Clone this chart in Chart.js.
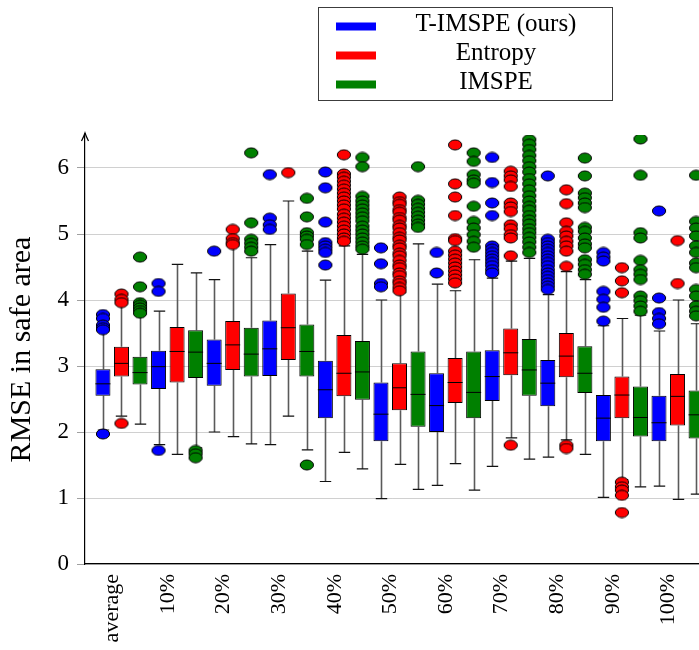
<!DOCTYPE html>
<html>
<head>
<meta charset="utf-8">
<title>RMSE in safe area</title>
<script src="https://cdn.jsdelivr.net/npm/chart.js@4/dist/chart.umd.min.js"></script>
<style>
  html, body { margin: 0; padding: 0; background: #fff; overflow: hidden; }
  #wrap { width: 699px; height: 650px; position: relative; }
</style>
</head>
<body>
<div id="wrap"><canvas id="chart" width="699" height="650"></canvas></div>
<script>
// Categories along the x axis
const categories = ['average', '10%', '20%', '30%', '40%', '50%', '60%', '70%', '80%', '90%', '100%'];

// Series names and colours
const seriesNames = ['T-IMSPE (ours)', 'Entropy', 'IMSPE'];
const seriesColors = ['#0000ff', '#ff0000', '#008000'];

// Box summaries per category: [lower whisker, Q1, median, Q3, upper whisker]
const timspeBoxes = [
  [2.03, 2.55, 2.73, 2.95, 3.52],
  [1.81, 2.65, 2.99, 3.23, 3.83],
  [2.00, 2.70, 3.04, 3.40, 4.31],
  [1.81, 2.85, 3.26, 3.69, 4.84],
  [1.25, 2.21, 2.64, 3.08, 4.30],
  [0.99, 1.86, 2.27, 2.75, 4.00],
  [1.19, 2.00, 2.40, 2.89, 4.24],
  [1.48, 2.47, 2.84, 3.24, 4.33],
  [1.62, 2.39, 2.74, 3.09, 4.08],
  [1.01, 1.86, 2.21, 2.56, 3.61],
  [1.18, 1.86, 2.14, 2.55, 3.53]
];
const entropyBoxes = [
  [2.24, 2.84, 3.04, 3.29, 3.93],
  [1.66, 2.75, 3.22, 3.59, 4.54],
  [1.93, 2.94, 3.32, 3.68, 4.82],
  [2.24, 3.09, 3.58, 4.10, 5.50],
  [1.69, 2.54, 2.89, 3.47, 4.82],
  [1.51, 2.33, 2.67, 3.04, 4.11],
  [1.52, 2.44, 2.75, 3.12, 4.14],
  [1.91, 2.86, 3.20, 3.57, 4.59],
  [1.88, 2.83, 3.15, 3.50, 4.43],
  [1.28, 2.21, 2.56, 2.84, 3.72],
  [0.98, 2.10, 2.54, 2.88, 4.00]
];
const imspeBoxes = [
  [2.12, 2.72, 2.90, 3.14, 3.78],
  [1.76, 2.82, 3.21, 3.54, 4.41],
  [1.82, 2.84, 3.18, 3.58, 4.64],
  [1.73, 2.84, 3.22, 3.63, 4.74],
  [1.44, 2.49, 2.91, 3.38, 4.69],
  [1.13, 2.08, 2.57, 3.22, 4.85],
  [1.12, 2.21, 2.60, 3.22, 4.61],
  [1.59, 2.55, 2.94, 3.41, 4.63],
  [1.66, 2.59, 2.89, 3.30, 4.31],
  [1.17, 1.93, 2.22, 2.69, 3.77],
  [1.06, 1.90, 2.26, 2.63, 3.64]
];

// Outliers per category
const timspeOutliers = [
  [3.78, 3.72, 3.62, 3.58, 3.55, 1.97],
  [4.25, 4.13, 1.72],
  [4.74],
  [5.90, 5.24, 5.14, 5.07],
  [5.94, 5.70, 5.18, 4.87, 4.82, 4.77, 4.72, 4.53],
  [4.79, 4.55, 4.25, 4.20],
  [4.72, 4.41],
  [6.16, 5.78, 5.47, 5.28, 4.82, 4.77, 4.72, 4.67, 4.62, 4.57, 4.52, 4.46, 4.41],
  [5.88, 4.92, 4.87, 4.82, 4.77, 4.72, 4.67, 4.62, 4.57, 4.52, 4.46, 4.41, 4.36, 4.31, 4.26, 4.21, 4.16],
  [4.72, 4.65, 4.59, 4.13, 4.01, 3.89, 3.68],
  [5.35, 4.03, 3.81, 3.72, 3.64]
];
const entropyOutliers = [
  [4.09, 4.01, 3.96, 2.13],
  [],
  [5.07, 4.93, 4.87, 4.84],
  [5.93],
  [6.20, 5.91, 5.86, 5.80, 5.74, 5.68, 5.62, 5.56, 5.50, 5.44, 5.38, 5.30, 5.24, 5.18, 5.12, 5.06, 5.00, 4.94, 4.89],
  [5.56, 5.49, 5.45, 5.37, 5.33, 5.25, 5.21, 5.13, 5.09, 5.02, 4.95, 4.91, 4.83, 4.79, 4.71, 4.67, 4.60, 4.53, 4.49, 4.41, 4.37, 4.29, 4.25, 4.19, 4.14],
  [6.35, 5.76, 5.56, 5.28, 4.93, 4.90, 4.74, 4.68, 4.62, 4.56, 4.50, 4.44, 4.38, 4.32, 4.26],
  [5.95, 5.88, 5.82, 5.72, 5.47, 5.41, 5.34, 5.14, 5.08, 4.99, 4.94, 4.67, 1.80],
  [5.67, 5.46, 5.17, 5.04, 4.97, 4.89, 4.82, 4.74, 4.51, 1.80, 1.75],
  [4.49, 4.29, 4.11, 1.24, 1.17, 1.12, 1.04, 0.78],
  [4.90, 4.25]
];
const imspeOutliers = [
  [4.65, 4.20, 3.96, 3.92, 3.88, 3.84, 3.80],
  [1.72, 1.67, 1.61],
  [6.23, 5.17, 4.92, 4.86, 4.80, 4.74],
  [5.54, 5.26, 5.02, 4.97, 4.92, 4.84, 1.50],
  [6.16, 6.02, 5.57, 5.50, 5.44, 5.38, 5.32, 5.26, 5.20, 5.12, 5.06, 5.00, 4.94, 4.88, 4.82, 4.77],
  [6.02, 5.51, 5.45, 5.39, 5.33, 5.27, 5.21, 5.15, 5.10],
  [6.23, 6.10, 5.90, 5.82, 5.77, 5.42, 5.19, 5.09, 4.99, 4.89, 4.80],
  [6.43, 6.36, 6.28, 6.19, 6.11, 6.02, 5.94, 5.84, 5.76, 5.67, 5.58, 5.50, 5.42, 5.36, 5.28, 5.21, 5.15, 5.08, 5.02, 4.95, 4.88, 4.80, 4.72],
  [6.15, 5.88, 5.62, 5.55, 5.47, 5.40, 5.10, 5.04, 4.94, 4.85, 4.79, 4.61, 4.54, 4.46, 4.39],
  [6.44, 5.89, 5.02, 4.94, 4.60, 4.46, 4.39, 4.31, 4.06, 3.99, 3.91, 3.83],
  [5.89, 5.19, 5.09, 4.97, 4.82, 4.72, 4.56, 4.49, 4.16, 4.06, 3.91, 3.83, 3.76]
];

const allBoxes = [timspeBoxes, entropyBoxes, imspeBoxes];
const allOutliers = [timspeOutliers, entropyOutliers, imspeOutliers];

const SERIF = "'Liberation Serif', 'DejaVu Serif', serif";

// Filled ellipse marker with a black rim, used for outlier points
function ellipseMarker(color) {
  const c = document.createElement('canvas');
  c.width = 16; c.height = 12;
  const g = c.getContext('2d');
  g.beginPath();
  g.ellipse(8, 6, 6.6, 5, 0, 0, Math.PI * 2);
  g.fillStyle = color;
  g.fill();
  g.lineWidth = 1;
  g.strokeStyle = '#000';
  g.stroke();
  return c;
}

// Offset of each series inside its category group (one bar slot = 1/3 unit)
const groupOffset = s => (s - 1) / 3;

const boxDatasets = seriesNames.map((name, s) => ({
  type: 'bar',
  label: name,
  data: allBoxes[s].map((b, i) => ({ x: i, y: [b[1], b[3]] })),
  backgroundColor: seriesColors[s],
  borderColor: '#000',
  borderWidth: 1,
  borderSkipped: false,
  categoryPercentage: 1.0,
  barPercentage: 0.81,
  order: 2
}));

const outlierDatasets = seriesNames.map((name, s) => ({
  type: 'scatter',
  label: name + ' outliers',
  data: allOutliers[s].flatMap((list, i) => list.map(v => ({ x: i + groupOffset(s), y: v }))),
  pointStyle: ellipseMarker(seriesColors[s]),
  pointRadius: 6,
  order: 1
}));

// Whiskers, caps, medians, axis arrow and the framed legend
const boxPlotExtras = {
  id: 'boxPlotExtras',
  beforeDatasetsDraw(chart) {
    const { ctx, chartArea: a } = chart;
    const y = chart.scales.y;
    ctx.save();
    ctx.beginPath();
    ctx.rect(a.left, a.top, a.right - a.left, a.bottom - a.top);
    ctx.clip();
    allBoxes.forEach((boxes, s) => {
      const meta = chart.getDatasetMeta(s);
      meta.data.forEach((bar, i) => {
        const [lo, q1, , q3, hi] = boxes[i];
        const x = Math.round(bar.x) + 0.5;
        const cap = bar.width * 0.38;
        ctx.strokeStyle = '#5a5a5a';
        ctx.lineWidth = 1.6;
        ctx.beginPath();
        ctx.moveTo(x, y.getPixelForValue(lo));
        ctx.lineTo(x, y.getPixelForValue(q1));
        ctx.moveTo(x, y.getPixelForValue(q3));
        ctx.lineTo(x, y.getPixelForValue(hi));
        ctx.stroke();
        ctx.strokeStyle = '#111';
        ctx.lineWidth = 1.2;
        ctx.beginPath();
        [lo, hi].forEach(v => {
          const py = y.getPixelForValue(v);
          ctx.moveTo(x - cap, py);
          ctx.lineTo(x + cap, py);
        });
        ctx.stroke();
      });
    });
    ctx.restore();
  },
  afterDatasetsDraw(chart) {
    const { ctx, chartArea: a } = chart;
    const y = chart.scales.y;
    ctx.save();
    ctx.beginPath();
    ctx.rect(a.left, a.top, a.right - a.left, a.bottom - a.top);
    ctx.clip();
    ctx.strokeStyle = '#000';
    ctx.lineWidth = 1;
    allBoxes.forEach((boxes, s) => {
      const meta = chart.getDatasetMeta(s);
      meta.data.forEach((bar, i) => {
        const py = y.getPixelForValue(boxes[i][2]);
        ctx.beginPath();
        ctx.moveTo(bar.x - bar.width / 2, py);
        ctx.lineTo(bar.x + bar.width / 2, py);
        ctx.stroke();
      });
    });
    ctx.restore();
  },
  afterDraw(chart) {
    const { ctx, chartArea: a } = chart;
    ctx.save();
    // arrow head on the y axis
    const ax = a.left;
    ctx.strokeStyle = '#000';
    ctx.lineWidth = 1.2;
    ctx.beginPath();
    ctx.moveTo(ax, a.top);
    ctx.lineTo(ax, a.top - 2);
    ctx.stroke();
    ctx.beginPath();
    ctx.moveTo(ax - 3.5, a.top + 6);
    ctx.quadraticCurveTo(ax - 1, a.top + 1, ax, a.top - 2);
    ctx.quadraticCurveTo(ax + 1, a.top + 1, ax + 3.5, a.top + 6);
    ctx.stroke();

    // legend
    const bx = 318.5, by = 7.5, bw = 294, bh = 93;
    ctx.strokeStyle = '#3c3c3c';
    ctx.lineWidth = 1;
    ctx.strokeRect(bx, by, bw, bh);
    ctx.font = '25px ' + SERIF;
    ctx.fillStyle = '#000';
    ctx.textAlign = 'center';
    ctx.textBaseline = 'alphabetic';
    const rows = [26.5, 55.5, 84.5];
    chart.data.datasets.filter(d => d.type === 'bar').forEach((d, k) => {
      ctx.fillStyle = d.backgroundColor;
      ctx.fillRect(336, rows[k] - 4, 40, 8);
      ctx.fillStyle = '#000';
      ctx.fillText(d.label, 496, rows[k] + 4.5);
    });
    ctx.restore();
  }
};

new Chart(document.getElementById('chart'), {
  type: 'bar',
  data: { datasets: [...boxDatasets, ...outlierDatasets] },
  options: {
    responsive: false,
    animation: false,
    devicePixelRatio: 1,
    layout: { autoPadding: false, padding: { top: 135, left: 0, right: 0, bottom: 0 } },
    plugins: {
      legend: { display: false },
      tooltip: { enabled: false }
    },
    scales: {
      x: {
        type: 'linear',
        offset: false,
        min: -0.656,
        max: 10.386,
        afterBuildTicks(scale) {
          scale.ticks = categories.map((_, i) => ({ value: i }));
        },
        afterFit(scale) {
          scale.height = 86;
          scale.paddingLeft = 0;
          scale.paddingRight = 0;
        },
        ticks: {
          autoSkip: false,
          minRotation: 90,
          maxRotation: 90,
          labelOffset: -9,
          padding: 10,
          color: '#000',
          font: { family: SERIF, size: 22 },
          callback: v => categories[v]
        },
        grid: { display: false, drawTicks: false },
        border: { display: true, color: '#000', width: 1.2 }
      },
      y: {
        min: 0,
        max: 6.5,
        afterFit(scale) {
          scale.width = 85;
          scale.paddingTop = 0;
          scale.paddingBottom = 0;
        },
        ticks: {
          stepSize: 1,
          includeBounds: false,
          padding: 8,
          color: '#000',
          font: { family: SERIF, size: 23 }
        },
        grid: { color: '#d0d0d0', tickColor: '#a0a0a0', tickLength: 8, lineWidth: 1 },
        border: { display: true, color: '#000', width: 1.2 },
        title: {
          display: true,
          text: 'RMSE in safe area',
          color: '#000',
          font: { family: SERIF, size: 30 },
          padding: { top: 4, bottom: 0 }
        }
      }
    }
  },
  plugins: [boxPlotExtras]
});
</script>
</body>
</html>
